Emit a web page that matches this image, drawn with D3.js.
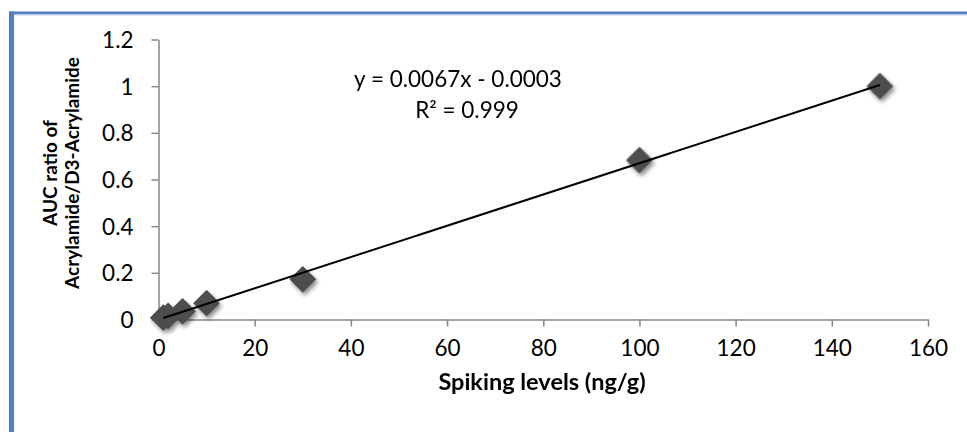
<!DOCTYPE html>
<html>
<head>
<meta charset="utf-8">
<script src="https://cdn.jsdelivr.net/npm/d3@7"></script>
<style>
  html, body { margin: 0; padding: 0; background: #fff; }
  svg { display: block; }
  text { font-family: Lato, "Open Sans", sans-serif; fill: #000; }
</style>
</head>
<body>
<svg id="chart" width="967" height="432"></svg>
<script>
// ---- data ----
const spikingLevels = [1, 2, 5, 10, 30, 100, 150];
const aucRatios     = [0.008, 0.015, 0.035, 0.07, 0.172, 0.683, 1.0];
const xTicks = [0, 20, 40, 60, 80, 100, 120, 140, 160];
const yTicks = [0, 0.2, 0.4, 0.6, 0.8, 1, 1.2];
const trendSlope = 0.0067;
const trendIntercept = -0.0003;
const equationLines = ["y = 0.0067x - 0.0003", "R² = 0.999"];
const xTitle = "Spiking levels (ng/g)";
const yTitleLines = ["AUC ratio of", "Acrylamide/D3-Acrylamide"];

// ---- layout ----
const svg = d3.select("#chart");
const x = d3.scaleLinear().domain([0, 160]).range([158.5, 928]);
const y = d3.scaleLinear().domain([0, 1.2]).range([319.5, 39.5]);

// drop shadow filter
const defs = svg.append("defs");
const f = defs.append("filter").attr("id", "shadow")
  .attr("x", "-50%").attr("y", "-50%").attr("width", "200%").attr("height", "200%");
f.append("feGaussianBlur").attr("in", "SourceAlpha").attr("stdDeviation", 2).attr("result", "b");
f.append("feOffset").attr("in", "b").attr("dx", 2).attr("dy", 3).attr("result", "o");
f.append("feComponentTransfer").attr("in", "o").attr("result", "oa")
  .append("feFuncA").attr("type", "linear").attr("slope", 0.45);
const m = f.append("feMerge");
m.append("feMergeNode").attr("in", "oa");
m.append("feMergeNode").attr("in", "SourceGraphic");

// frame border (blue)
svg.append("line").attr("x1", 9).attr("x2", 967).attr("y1", 13).attr("y2", 13)
  .attr("stroke", "#4F81BD").attr("stroke-width", 3);
svg.append("line").attr("x1", 9).attr("x2", 967).attr("y1", 15).attr("y2", 15)
  .attr("stroke", "#c9d7ea").attr("stroke-width", 1);
svg.append("line").attr("x1", 11.5).attr("x2", 11.5).attr("y1", 11.5).attr("y2", 432)
  .attr("stroke", "#4F81BD").attr("stroke-width", 5);

// axes
const axisColor = "#868686";
const gx = svg.append("g").attr("transform", `translate(0,${y(0)})`)
  .call(d3.axisBottom(x).tickValues(xTicks).tickFormat(d3.format("d")).tickSize(7).tickSizeOuter(0).tickPadding(13));
const gy = svg.append("g").attr("transform", `translate(${x(0)},0)`)
  .call(d3.axisLeft(y).tickValues(yTicks).tickFormat(d => String(+d.toFixed(1))).tickSize(7).tickSizeOuter(0).tickPadding(18));
[gx, gy].forEach(g => {
  g.select(".domain").attr("stroke", axisColor).attr("stroke-width", 1.5);
  g.selectAll(".tick line").attr("stroke", axisColor).attr("stroke-width", 1.5);
  g.selectAll(".tick text").attr("font-size", 22.5).attr("font-family", "Lato, sans-serif").attr("fill", "#000");
});
gy.selectAll(".tick text").attr("dy", "0.36em");
gx.selectAll(".tick text").attr("dy", "0.72em");

// markers (diamonds)
const pts = spikingLevels.map((v, i) => [v, aucRatios[i]]);
const sym = d3.symbol().type(d3.symbolSquare).size(19 * 19);
svg.append("g").attr("filter", "url(#shadow)")
  .selectAll("path").data(pts).join("path")
  .attr("d", sym)
  .attr("transform", d => `translate(${x(d[0])},${y(d[1])}) rotate(45)`)
  .attr("fill", "#4d4d4d");

// trendline
const xmin = d3.min(spikingLevels), xmax = d3.max(spikingLevels);
svg.append("line")
  .attr("x1", x(xmin)).attr("y1", y(trendSlope * xmin + trendIntercept))
  .attr("x2", x(xmax)).attr("y2", y(trendSlope * xmax + trendIntercept))
  .attr("stroke", "#000").attr("stroke-width", 2);

// equation
svg.append("text").attr("x", 458).attr("y", 87).attr("text-anchor", "middle")
  .attr("font-size", 22.5).text(equationLines[0]);
svg.append("text").attr("x", 467).attr("y", 118).attr("text-anchor", "middle")
  .attr("font-size", 22.5).text(equationLines[1]);

// axis titles
svg.append("text").attr("x", 542).attr("y", 390).attr("text-anchor", "middle")
  .attr("font-size", 23.5).attr("font-weight", "bold").text(xTitle);
svg.append("text").attr("transform", "translate(57,173) rotate(-90)")
  .attr("text-anchor", "middle").attr("font-size", 19).attr("font-weight", "bold").text(yTitleLines[0]);
svg.append("text").attr("transform", "translate(79,173) rotate(-90)")
  .attr("text-anchor", "middle").attr("font-size", 19).attr("font-weight", "bold").text(yTitleLines[1]);
</script>
</body>
</html>
